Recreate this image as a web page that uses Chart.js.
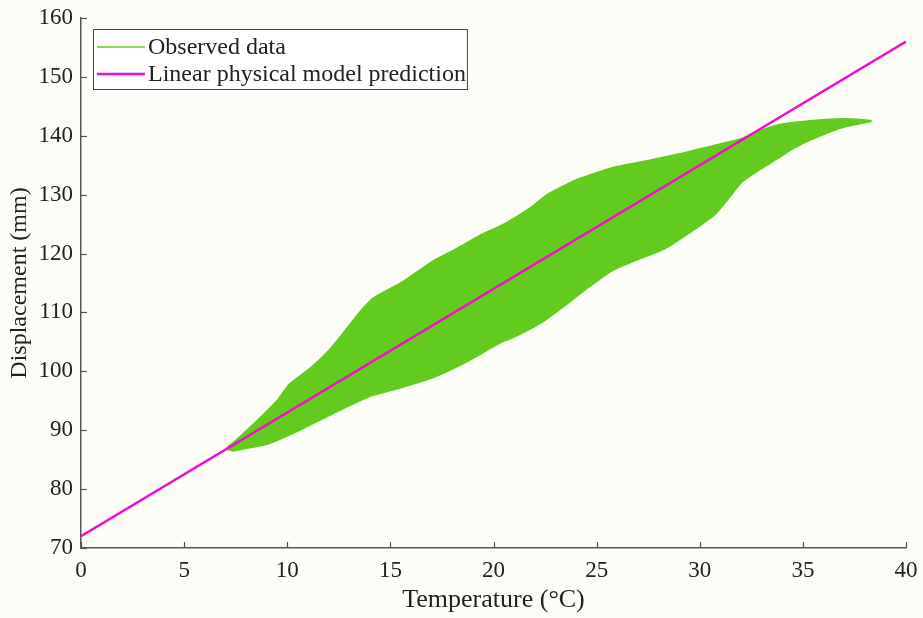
<!DOCTYPE html>
<html>
<head>
<meta charset="utf-8">
<script src="https://cdn.jsdelivr.net/npm/chart.js@4.4.1/dist/chart.umd.min.js"></script>
<style>
  body { margin: 0; background: #fdfdf8; }
  #wrap { width: 923px; height: 618px; }
</style>
</head>
<body>
<div id="wrap"><canvas id="grafico" width="923" height="618"></canvas></div>
<script>
// Observed data: outline of the hysteresis loops (upper branch left -> right)
const upperTemp = [7.0, 7.7, 8.5, 9.5, 10.1, 11.1, 12.0, 12.6, 13.5, 14.2, 15.5, 17.1, 18.1, 19.4, 20.5, 21.8, 22.6, 24.0, 25.8, 27.5, 29.1, 30.5, 32.0, 33.2, 34.0, 35.5, 37.0, 38.3];
const upperDisp = [86.8, 88.9, 91.5, 95.0, 97.8, 100.5, 103.5, 106.0, 110.0, 112.5, 115.0, 118.8, 120.6, 123.2, 125.0, 127.8, 130.0, 132.5, 134.6, 135.8, 137.0, 138.2, 139.5, 141.2, 142.0, 142.6, 142.9, 142.6];
// lower branch right -> left
const lowerTemp = [38.3, 37.0, 35.5, 34.5, 33.9, 32.8, 32.0, 31.5, 30.7, 29.5, 28.3, 27.0, 25.8, 24.5, 23.4, 22.2, 21.0, 20.3, 18.8, 17.1, 15.5, 13.9, 12.2, 10.6, 9.0, 8.0, 7.4, 7.0];
const lowerDisp = [142.4, 141.5, 139.5, 137.8, 136.4, 134.0, 132.0, 129.8, 126.5, 123.5, 120.8, 119.0, 117.2, 114.0, 111.0, 108.0, 105.8, 104.8, 101.8, 99.0, 97.2, 95.6, 92.8, 90.0, 87.6, 86.9, 86.5, 86.8];

// Linear physical model prediction
const modelTemp = [0, 40];
const modelDisp = [72, 156];

const xTicks = [0, 5, 10, 15, 20, 25, 30, 35, 40];
const yTicks = [70, 80, 90, 100, 110, 120, 130, 140, 150, 160];

const verde = '#62cc1e';
const magenta = '#f00ec8';
const fonte = 'Liberation Serif, Times New Roman, serif';

const obsPoints = upperTemp.map((t, i) => ({ x: t, y: upperDisp[i] }))
    .concat(lowerTemp.map((t, i) => ({ x: t, y: lowerDisp[i] })));
const modelPoints = modelTemp.map((t, i) => ({ x: t, y: modelDisp[i] }));

// ticks pointing into the plot + legend box in the upper left corner
const extras = {
    id: 'extras',
    afterDraw(chart) {
        const ctx = chart.ctx;
        const area = chart.chartArea;
        const sx = chart.scales.x, sy = chart.scales.y;
        ctx.save();
        ctx.strokeStyle = '#555';
        ctx.lineWidth = 1.2;
        xTicks.forEach(v => {
            const px = Math.round(sx.getPixelForValue(v)) + 0.5;
            ctx.beginPath(); ctx.moveTo(px, area.bottom); ctx.lineTo(px, area.bottom - 6); ctx.stroke();
        });
        yTicks.forEach(v => {
            const py = Math.round(sy.getPixelForValue(v)) + 0.5;
            ctx.beginPath(); ctx.moveTo(area.left, py); ctx.lineTo(area.left + 6, py); ctx.stroke();
        });

        // legend
        const ds = chart.data.datasets;
        ctx.font = '24px ' + fonte;
        const largura = Math.max(...ds.map(d => ctx.measureText(d.label).width));
        const bx = area.left + 12, by = area.top + 11;
        const bw = 55 + largura + 1, bh = 60;
        ctx.fillStyle = '#ffffff';
        ctx.fillRect(bx, by, bw, bh);
        ctx.strokeStyle = '#444';
        ctx.lineWidth = 1;
        ctx.strokeRect(bx + 0.5, by + 0.5, bw, bh);
        ds.forEach((d, i) => {
            const ly = by + 18 + i * 27;
            ctx.strokeStyle = d.borderColor;
            ctx.lineWidth = d.legendWidth;
            ctx.beginPath(); ctx.moveTo(bx + 4, ly); ctx.lineTo(bx + 52, ly); ctx.stroke();
            ctx.fillStyle = '#222';
            ctx.textBaseline = 'middle';
            ctx.fillText(d.label, bx + 55, ly + 1);
        });
        ctx.restore();
    }
};

new Chart(document.getElementById('grafico'), {
    type: 'scatter',
    data: {
        datasets: [
            {
                label: 'Observed data',
                data: obsPoints,
                showLine: true,
                borderColor: verde,
                backgroundColor: verde,
                borderWidth: 1.5,
                legendWidth: 1.5,
                fill: 'shape',
                pointRadius: 0,
                tension: 0.2,
                order: 1
            },
            {
                label: 'Linear physical model prediction',
                data: modelPoints,
                showLine: true,
                borderColor: magenta,
                backgroundColor: magenta,
                borderWidth: 2.5,
                legendWidth: 2.5,
                pointRadius: 0,
                order: 0
            }
        ]
    },
    options: {
        responsive: false,
        animation: false,
        layout: { padding: { top: 18, right: 17, left: 0, bottom: 0 } },
        plugins: {
            legend: { display: false },
            tooltip: { enabled: false }
        },
        scales: {
            x: {
                type: 'linear',
                min: 0, max: 40,
                afterFit: s => { s.height = 70; s.paddingLeft = 0; s.paddingRight = 0; },
                afterBuildTicks: s => { s.ticks = xTicks.map(v => ({ value: v })); },
                grid: { drawOnChartArea: false, drawTicks: false },
                border: { display: true, color: '#555', width: 1.5 },
                ticks: { color: '#222', padding: 9, maxRotation: 0, font: { family: fonte, size: 23 } },
                title: {
                    display: true,
                    text: 'Temperature (°C)',
                    color: '#222',
                    padding: { top: 0, bottom: 2 },
                    font: { family: fonte, size: 26 }
                }
            },
            y: {
                type: 'linear',
                min: 70, max: 160,
                afterFit: s => { s.width = 81; s.paddingTop = 0; s.paddingBottom = 0; },
                afterBuildTicks: s => { s.ticks = yTicks.map(v => ({ value: v })); },
                grid: { drawOnChartArea: false, drawTicks: false },
                border: { display: true, color: '#555', width: 1.5 },
                ticks: { color: '#222', padding: 8, font: { family: fonte, size: 23 } },
                title: {
                    display: true,
                    text: 'Displacement (mm)',
                    color: '#222',
                    padding: { top: 5, bottom: 0 },
                    font: { family: fonte, size: 24 }
                }
            }
        }
    },
    plugins: [extras]
});
</script>
</body>
</html>
